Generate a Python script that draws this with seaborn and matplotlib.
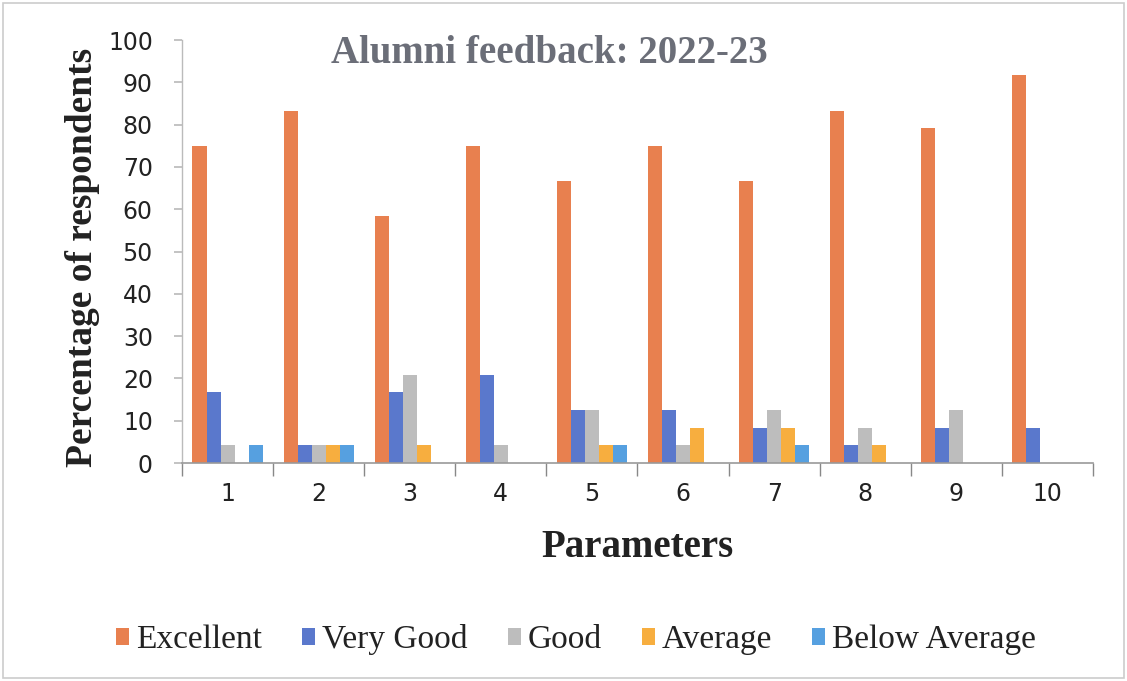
import matplotlib
matplotlib.use("Agg")
import matplotlib.pyplot as plt
import seaborn as sns
import pandas as pd
import numpy as np
from matplotlib.patches import Rectangle

parameters = ["1", "2", "3", "4", "5", "6", "7", "8", "9", "10"]
excellent = [75.0, 83.3, 58.3, 75.0, 66.7, 75.0, 66.7, 83.3, 79.2, 91.7]
very_good = [16.7, 4.2, 16.7, 20.8, 12.5, 12.5, 8.3, 4.2, 8.3, 8.3]
good = [4.2, 4.2, 20.8, 4.2, 12.5, 4.2, 12.5, 8.3, 12.5, 0.0]
average = [0.0, 4.2, 4.2, 0.0, 4.2, 8.3, 8.3, 4.2, 0.0, 0.0]
below_average = [4.2, 4.2, 0.0, 0.0, 4.2, 0.0, 4.2, 0.0, 0.0, 0.0]
series_names = ["Excellent", "Very Good", "Good", "Average", "Below Average"]
series_colors = ["#E8804F", "#5A78CC", "#BDBDBD", "#F7AE3F", "#56A0E0"]

rows = []
for name, vals in zip(series_names, [excellent, very_good, good, average, below_average]):
    for p, v in zip(parameters, vals):
        rows.append({"Parameter": p, "Rating": name, "Value": v})
df = pd.DataFrame(rows)

sns.set_theme(style="white")
plt.rcParams['font.family'] = ['Liberation Serif', 'DejaVu Serif']

fig = plt.figure(figsize=(11.27, 6.81), dpi=100)
ax = fig.add_axes([0.1615, 0.3201, 0.8083, 0.6211])

sns.barplot(data=df, x="Parameter", y="Value", hue="Rating", order=parameters,
            hue_order=series_names, palette=series_colors, width=0.77, gap=0,
            saturation=1, linewidth=0, ax=ax, legend=True)

ax.set_ylim(0, 100)
ax.set_xlim(-0.5, 9.5)
ax.set_yticks(np.arange(0, 101, 10))
ax.tick_params(axis='y', labelsize=17, length=6, color="#BBBBBB", left=True, pad=15)
ax.tick_params(axis='x', which='major', labelsize=17, length=0, pad=14)
for lab in ax.get_yticklabels() + ax.get_xticklabels():
    lab.set_fontfamily('DejaVu Sans')
    lab.set_color('#222222')
ax.set_xticks(np.arange(-0.5, 10, 1), minor=True)
ax.tick_params(axis='x', which='minor', length=9, color="#888888", bottom=True)

for s in ["top", "right"]:
    ax.spines[s].set_visible(False)
ax.spines["left"].set_color("#BBBBBB")
ax.spines["bottom"].set_color("#999999")
ax.spines["left"].set_linewidth(1)
ax.spines["bottom"].set_linewidth(1.2)

ax.set_ylabel("Percentage of respondents", fontsize=27, fontweight="bold", color="#222222")
ax.yaxis.set_label_coords(-0.09, 0.487)
ax.set_xlabel("Parameters", fontsize=28, fontweight="bold", color="#222222")
ax.xaxis.set_label_coords(0.4995, -0.156)
ax.text(0.403, 0.968, "Alumni feedback: 2022-23", transform=ax.transAxes,
        ha="center", va="center", fontsize=28, fontweight="bold", color="#6B6E78")

handles, labels = ax.get_legend_handles_labels()
ax.legend(handles, labels, loc="center", bbox_to_anchor=(0.4326, -0.418), ncol=5,
          frameon=False, fontsize=24, handlelength=0.4, handleheight=0.4,
          handletextpad=0.2, columnspacing=1.2, labelcolor="#222222")

fig.patches.append(Rectangle((0.003, 0.004), 0.994, 0.992, transform=fig.transFigure,
                             fill=False, edgecolor="#CCCCCC", linewidth=1.2))

fig.savefig("out.png", dpi=100)
